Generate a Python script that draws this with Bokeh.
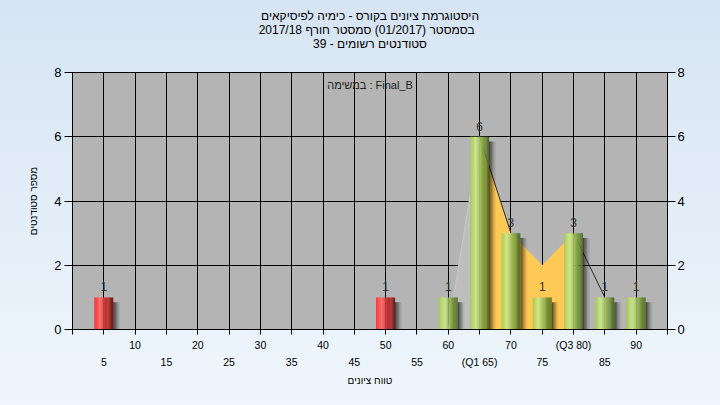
from bokeh.plotting import figure
from bokeh.models import Range1d, LinearAxis, FixedTicker, Title, Label, ColumnDataSource
from bokeh.core.properties import value
from bokeh.embed import file_html
from bokeh.resources import INLINE

# ---------------- data ----------------
title_lines = ["היסטוגרמת ציונים בקורס - כימיה לפיסיקאים",
               "בסמסטר  (01/2017)  סמסטר חורף 2017/18",
               "סטודנטים רשומים - 39"]
task_label = "במשימה : Final_B"
x_axis_title = "טווח ציונים"
y_axis_title = "מספר סטודנטים"

bins = [5, 50, 60, 65, 70, 75, 80, 85, 90]
counts = [1, 1, 1, 6, 3, 1, 3, 1, 1]
pass_mark = 55
q1, q3 = 65, 80
curve_x = [60, 65, 70, 75, 80, 85]
curve_y = [0, 6, 3, 2, 3, 1]

x_ticks_all = [0, 5, 10, 15, 20, 25, 30, 35, 40, 45, 50, 55, 60, 65, 70, 75, 80, 85, 90, 95]
row1_ticks = [10, 20, 30, 40, 50, 60, 70, 80, 90]
row1_labels = ["10", "20", "30", "40", "50", "60", "70", "(Q3 80)", "90"]
row2_ticks = [5, 15, 25, 35, 45, 55, 65, 75, 85]
row2_labels = ["5", "15", "25", "35", "45", "55", "(Q1 65)", "75", "85"]
y_ticks = [0, 2, 4, 6, 8]

# ---------------- style ----------------
FONT = "Liberation Sans"
BAR_W = 3.0
GREEN = [(0.0, "#a4cc48"), (0.3, "#cfe894"), (0.55, "#9abc56"), (1.0, "#4a6620")]
RED = [(0.0, "#ff1c1c"), (0.28, "#ff6e6e"), (0.55, "#d63030"), (1.0, "#701818")]


def hex2rgb(h):
    return tuple(int(h[i:i + 2], 16) for i in (1, 3, 5))


def shade(stops, t):
    for (t0, c0), (t1, c1) in zip(stops[:-1], stops[1:]):
        if t <= t1:
            f = (t - t0) / (t1 - t0)
            a, b = hex2rgb(c0), hex2rgb(c1)
            return "#%02x%02x%02x" % tuple(round(a[k] + (b[k] - a[k]) * f) for k in range(3))
    return stops[-1][1]


p = figure(width=720, height=405, x_range=Range1d(0, 95), y_range=Range1d(0, 8),
           output_backend="svg", toolbar_location=None,
           min_border_left=72, min_border_right=53, min_border_top=72, min_border_bottom=76,
           background_fill_color="#b4b4b4", border_fill_alpha=0,
           outline_line_color="black", outline_line_width=1)

# grids
for g in (p.xgrid, p.ygrid):
    g.grid_line_color = "black"
    g.grid_line_width = 1
    g.grid_line_alpha = 1.0

# x axis row 1 (with all tick marks)
ax1 = p.xaxis[0]
ax1.ticker = FixedTicker(ticks=x_ticks_all)
ov1 = {t: "" for t in x_ticks_all}
ov1.update(dict(zip(row1_ticks, row1_labels)))
ax1.major_label_overrides = ov1
ax1.major_tick_out = 5
ax1.major_tick_in = 0
ax1.minor_tick_out = 0
ax1.minor_tick_in = 0
ax1.major_label_standoff = 4
ax1.axis_line_color = "black"
ax1.major_tick_line_color = "black"
ax1.major_label_text_font = FONT
ax1.major_label_text_font_size = "10.5px"
ax1.major_label_text_color = "black"

# x axis row 2 (labels only)
ax2 = LinearAxis(ticker=FixedTicker(ticks=row2_ticks),
                 major_label_overrides=dict(zip(row2_ticks, row2_labels)))
ax2.axis_line_color = None
ax2.major_tick_line_color = None
ax2.minor_tick_line_color = None
ax2.major_tick_out = 0
ax2.major_tick_in = 0
ax2.major_label_standoff = 2
ax2.major_label_text_font = FONT
ax2.major_label_text_font_size = "10.5px"
ax2.major_label_text_color = "black"
p.add_layout(ax2, "below")

# x axis title (as a centered title below the axes)
p.add_layout(Title(text=x_axis_title, align="center", text_font=FONT,
                   text_font_size="10px", text_font_style="normal",
                   text_color="black", standoff=5), "below")

# y axes
ay = p.yaxis[0]
ay_r = LinearAxis()
p.add_layout(ay_r, "right")
for a in (ay, ay_r):
    a.ticker = FixedTicker(ticks=y_ticks)
    a.major_tick_out = 8
    a.major_tick_in = 0
    a.minor_tick_out = 0
    a.minor_tick_in = 0
    a.axis_line_color = "black"
    a.major_tick_line_color = "black"
    a.major_label_text_font = FONT
    a.major_label_text_font_size = "13px"
    a.major_label_text_color = "black"
ay.major_label_standoff = 3
ay_r.major_label_standoff = 2

# y axis title
p.add_layout(Title(text=y_axis_title, align="center", text_font=FONT,
                   text_font_size="10px", text_font_style="normal",
                   text_color="black", standoff=26), "left")

# distribution curve areas
left_x = [x for x in curve_x if x <= q1]
left_y = [y for x, y in zip(curve_x, curve_y) if x <= q1]
iqr_x = [x for x in curve_x if q1 <= x <= q3]
iqr_y = [y for x, y in zip(curve_x, curve_y) if q1 <= x <= q3]
p.varea(x=left_x, y1=[0] * len(left_x), y2=left_y, fill_color="#bebebe")
p.varea(x=iqr_x, y1=[0] * len(iqr_x), y2=iqr_y, fill_color="#ffc955")
seg_colors = ["#c8c8c8", "#2a2a2a", "#2a2a2a", "#2a2a2a", "#2a2a2a"]
seg_alpha = [1.0, 1.0, 0.0, 0.0, 1.0]
p.segment(x0=curve_x[:-1], y0=curve_y[:-1], x1=curve_x[1:], y1=curve_y[1:],
          line_color=seg_colors, line_alpha=seg_alpha, line_width=1)

# bar shadows
sh = dict(x=[], top=[], alpha=[])
sh_alphas = [0.6, 0.45, 0.3, 0.15, 0.06]
for b, c in zip(bins, counts):
    for k, al in enumerate(sh_alphas):
        sh["x"].append(b + BAR_W / 2 + (k + 0.5) * 0.22)
        sh["top"].append(c - 0.15)
        sh["alpha"].append(al)
p.vbar(x="x", top="top", bottom=0, width=0.23, source=ColumnDataSource(sh),
       fill_color="black", fill_alpha="alpha", line_color=None)

# gradient bars
N = 16
st = dict(x=[], top=[], color=[])
for b, c in zip(bins, counts):
    stops = RED if b < pass_mark else GREEN
    for j in range(N):
        t = (j + 0.5) / N
        st["x"].append(b - BAR_W / 2 + t * BAR_W)
        st["top"].append(c)
        st["color"].append(shade(stops, t))
p.vbar(x="x", top="top", bottom=0, width=BAR_W / N * 1.1, source=ColumnDataSource(st),
       fill_color="color", line_color=None)

# count labels
p.text(x=bins, y=counts, text=[str(c) for c in counts], text_align="center",
       text_baseline="bottom", y_offset=-6, text_font=value(FONT),
       text_font_size="12px", text_color="#333333")

# in-plot task label
p.add_layout(Label(x=47.5, y=7.6, text=task_label, text_align="center",
                   text_baseline="middle", text_font=FONT, text_font_size="11px",
                   text_color="#202020"))

# titles (added innermost first): spacer, then lines bottom-up
p.add_layout(Title(text=" ", text_font_size="1px", standoff=20), "above")
for line in reversed(title_lines):
    p.add_layout(Title(text=line, align="center", text_font=FONT, text_font_size="12px",
                       text_font_style="normal", text_color="black",
                       standoff=-2, offset=-9), "above")

template = """{% block postamble %}<style>html { height: 100%; background: linear-gradient(#d6e4f3, #eff6fd); }</style>{% endblock %}"""

open("out.html", "w").write(file_html(p, INLINE, template=template))
